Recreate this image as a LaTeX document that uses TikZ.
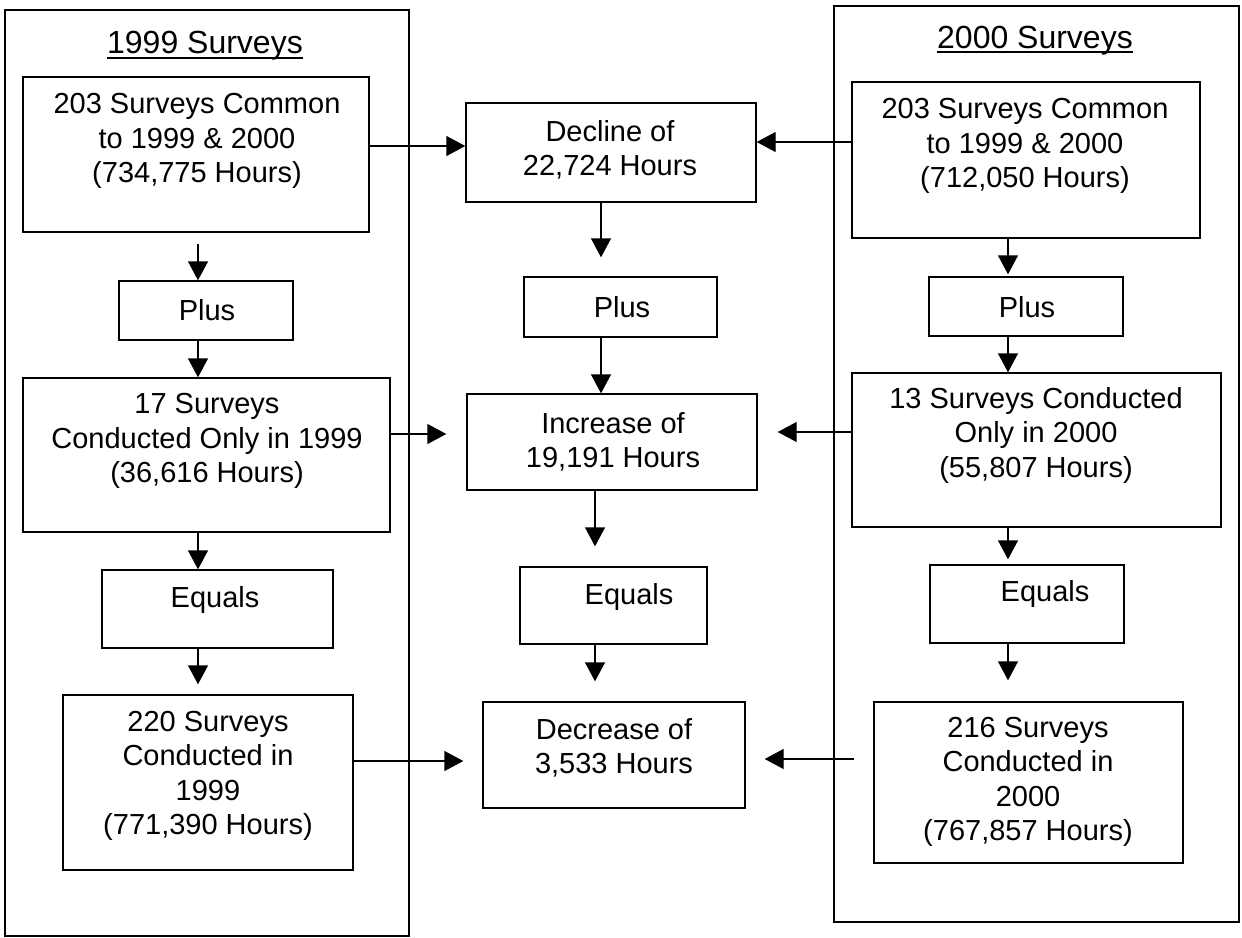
\documentclass[tikz,border=0pt]{standalone}
\usepackage{fontspec}
\setmainfont{Liberation Sans}
\usetikzlibrary{arrows.meta}
\begin{document}
\begin{tikzpicture}[x=1pt,y=-1pt,
  box/.style={draw, line width=1.4pt, inner sep=0pt},
  txt/.style={align=center, font=\fontsize{29}{34.5}\selectfont, inner sep=0pt},
  ttl/.style={font=\fontsize{32}{38}\selectfont, inner sep=0pt, anchor=base},
  arr/.style={line width=1.4pt, -{Triangle[length=19pt,width=20pt]}},
  ln/.style={line width=1.4pt}]
\useasboundingbox[fill=white] (0,0) rectangle (1242,937);

% frames
\node[box, minimum width=404pt, minimum height=926pt] (Lframe) at (207,473) {};
\node[box, minimum width=405pt, minimum height=916pt] (Rframe) at (1036.5,464) {};

% titles
\node[ttl] (Lt) at (205,53) {1999 Surveys};
\node[ttl] (Rt) at (1035,48) {2000 Surveys};
\draw[ln] ([yshift=-5pt]Lt.base west) -- ([yshift=-5pt]Lt.base east);
\draw[ln] ([yshift=-4pt]Rt.base west) -- ([yshift=-4pt]Rt.base east);

% left column boxes
\node[box, minimum width=346pt, minimum height=155pt] (L1) at (196,154.5) {};
\node[box, minimum width=174pt, minimum height=59pt]  (LP) at (206,310.5) {};
\node[box, minimum width=367pt, minimum height=154pt] (L3) at (206.5,455) {};
\node[box, minimum width=231pt, minimum height=78pt]  (LE) at (217.5,609) {};
\node[box, minimum width=290pt, minimum height=175pt] (L5) at (208,782.5) {};

% middle column boxes
\node[box, minimum width=290pt, minimum height=99pt]  (MD)   at (611,152.5) {};
\node[box, minimum width=193pt, minimum height=60pt]  (MP)   at (620.5,307) {};
\node[box, minimum width=290pt, minimum height=96pt]  (MI)   at (612,442) {};
\node[box, minimum width=187pt, minimum height=77pt]  (ME)   at (613.5,605.5) {};
\node[box, minimum width=262pt, minimum height=106pt] (MDec) at (614,755) {};

% right column boxes
\node[box, minimum width=348pt, minimum height=156pt] (R1) at (1026,160) {};
\node[box, minimum width=194pt, minimum height=59pt]  (RP) at (1026,306.5) {};
\node[box, minimum width=369pt, minimum height=154pt] (R3) at (1036.5,450) {};
\node[box, minimum width=194pt, minimum height=78pt]  (RE) at (1027,604) {};
\node[box, minimum width=309pt, minimum height=161pt] (R5) at (1028.5,782.5) {};

% texts
\node[txt] (L1t) at (197,141) {203 Surveys Common\\to 1999 \& 2000\\(734,775 Hours)};
\node[txt] (LPt) at (207,310) {Plus};
\node[txt] (L3t) at (207,441) {17 Surveys\\Conducted Only in 1999\\(36,616 Hours)};
\node[txt] (LEt) at (215,600) {Equals};
\node[txt] (L5t) at (208,776) {220 Surveys\\Conducted in\\1999\\(771,390 Hours)};

\node[txt] (MDt)   at (610,150) {Decline of\\22,724 Hours};
\node[txt] (MPt)   at (622,307) {Plus};
\node[txt] (MIt)   at (613,442) {Increase of\\19,191 Hours};
\node[txt] (MEt)   at (629,597) {Equals};
\node[txt] (MDect) at (614,748) {Decrease of\\3,533 Hours};

\node[txt] (R1t) at (1025,146) {203 Surveys Common\\to 1999 \& 2000\\(712,050 Hours)};
\node[txt] (RPt) at (1027,307) {Plus};
\node[txt] (R3t) at (1036,435) {13 Surveys Conducted\\Only in 2000\\(55,807 Hours)};
\node[txt] (REt) at (1045,594) {Equals};
\node[txt] (R5t) at (1028,782) {216 Surveys\\Conducted in\\2000\\(767,857 Hours)};

% column axes and row levels
\coordinate (cl) at (198,0);
\coordinate (cmA) at (601,0);
\coordinate (cmB) at (595,0);
\coordinate (cr) at (1008,0);
\coordinate (ya) at (0,146);
\coordinate (yb) at (0,142);
\coordinate (yc) at (0,434);
\coordinate (yd) at (0,432);
\coordinate (ye) at (0,761);
\coordinate (yf) at (0,759);

% vertical arrows - left
\draw[arr, shorten <=11pt] (L1.south -| cl) -- (LP.north -| cl);
\draw[arr] (LP.south -| cl) -- (L3.north -| cl);
\draw[arr] (L3.south -| cl) -- (LE.north -| cl);
\draw[arr, shorten >=10pt] (LE.south -| cl) -- (L5.north -| cl);

% vertical arrows - middle
\draw[arr, shorten >=19pt] (MD.south -| cmA) -- (MP.north -| cmA);
\draw[arr] (MP.south -| cmA) -- (MI.north -| cmA);
\draw[arr, shorten >=20pt] (MI.south -| cmB) -- (ME.north -| cmB);
\draw[arr, shorten >=20pt] (ME.south -| cmB) -- (MDec.north -| cmB);

% vertical arrows - right
\draw[arr, shorten >=2pt] (R1.south -| cr) -- (RP.north -| cr);
\draw[arr] (RP.south -| cr) -- (R3.north -| cr);
\draw[arr, shorten >=5pt] (R3.south -| cr) -- (RE.north -| cr);
\draw[arr, shorten >=21pt] (RE.south -| cr) -- (R5.north -| cr);

% horizontal arrows
\draw[arr] (L1.east |- ya) -- (MD.west |- ya);
\draw[arr] (R1.west |- yb) -- (MD.east |- yb);
\draw[arr, shorten >=20pt] (L3.east |- yc) -- (MI.west |- yc);
\draw[arr, shorten >=20pt] (R3.west |- yd) -- (MI.east |- yd);
\draw[arr, shorten >=19pt] (L5.east |- ye) -- (MDec.west |- ye);
\draw[arr, shorten <=19pt, shorten >=19pt] (R5.west |- yf) -- (MDec.east |- yf);
\end{tikzpicture}
\end{document}
